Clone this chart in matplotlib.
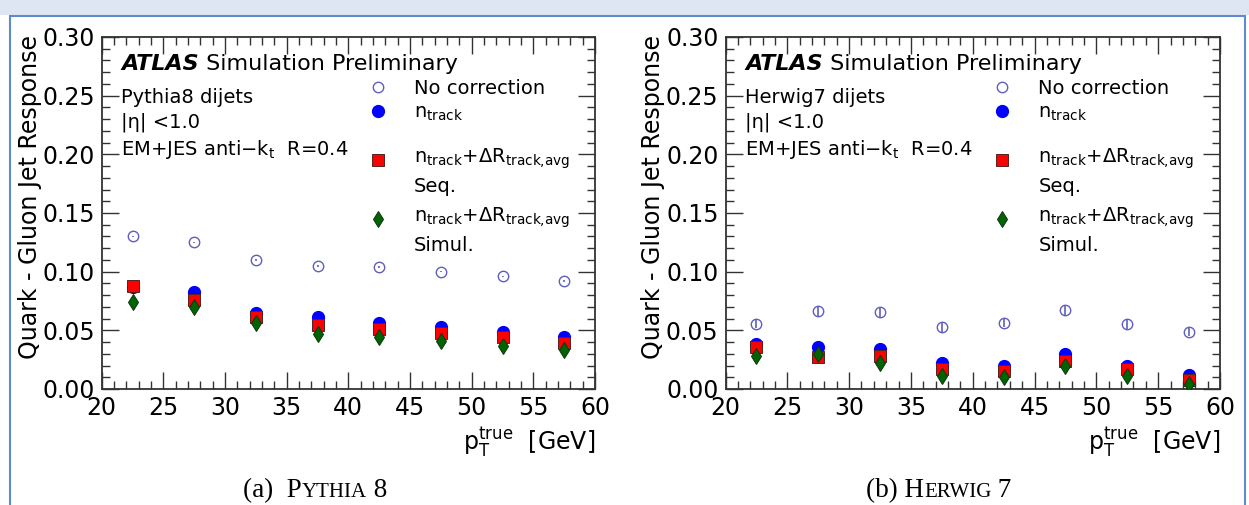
import numpy as np
import matplotlib
matplotlib.use("Agg")
import matplotlib.pyplot as plt
from matplotlib.lines import Line2D
from matplotlib.legend import Legend
from matplotlib.patches import Rectangle
from matplotlib.legend_handler import HandlerLine2D
from matplotlib.ticker import MultipleLocator, FormatStrFormatter

plt.rcParams['font.family'] = ['DejaVu Sans']
plt.rcParams['mathtext.fontset'] = 'dejavusans'
plt.rcParams['mathtext.default'] = 'regular'

# bin centres in pT^true [GeV]
pt_centers = [22.5, 27.5, 32.5, 37.5, 42.5, 47.5, 52.5, 57.5]

# Pythia8
pythia_nocorr = [0.130, 0.125, 0.110, 0.105, 0.104, 0.100, 0.096, 0.092]
pythia_nocorr_err = [0.0007, 0.0007, 0.0007, 0.0007, 0.0007, 0.0007, 0.0007, 0.0007]
pythia_ntrack = [0.087, 0.083, 0.065, 0.061, 0.056, 0.053, 0.049, 0.044]
pythia_seq = [0.0875, 0.076, 0.061, 0.0545, 0.051, 0.048, 0.044, 0.039]
pythia_simul = [0.074, 0.070, 0.056, 0.047, 0.044, 0.041, 0.037, 0.033]

# Herwig7
herwig_nocorr = [0.0556, 0.0664, 0.0656, 0.0528, 0.0565, 0.0673, 0.0551, 0.0488]
herwig_nocorr_err = [0.004, 0.004, 0.004, 0.004, 0.004, 0.004, 0.004, 0.004]
herwig_ntrack = [0.038, 0.036, 0.034, 0.022, 0.0196, 0.030, 0.0193, 0.0122]
herwig_seq = [0.0358, 0.0275, 0.0281, 0.0173, 0.0156, 0.0241, 0.0168, 0.0077]
herwig_simul = [0.0281, 0.0295, 0.0224, 0.011, 0.010, 0.0196, 0.0113, 0.004]

legend_labels = ['No correction', r'n$_{track}$',
                 'n$_{track}$+ΔR$_{track{,}avg}$\nSeq.',
                 'n$_{track}$+ΔR$_{track{,}avg}$\nSimul.']

C_NOCORR = '#5f5fbf'
C_NTRACK = '#0000ff'
C_SEQ = '#ff0000'
C_SIMUL = '#006400'
C_AXIS = '#333333'


class RaisedHandler(HandlerLine2D):
    # put the marker on the first line of a two-line label
    def __init__(self, shift, **kw):
        super().__init__(**kw)
        self.shift = shift

    def create_artists(self, legend, orig_handle, xdescent, ydescent,
                       width, height, fontsize, trans):
        arts = super().create_artists(legend, orig_handle, xdescent, ydescent,
                                      width, height, fontsize, trans)
        for a in arts:
            a.set_ydata(np.asarray(a.get_ydata()) + self.shift)
        return arts


def draw_panel(ax, nocorr, nocorr_err, ntrack, seq, simul, sample):
    ax.errorbar(pt_centers, nocorr, yerr=nocorr_err, fmt='o', ms=7.5, mfc='none',
                mec=C_NOCORR, mew=1.0, ecolor=C_NOCORR, elinewidth=1.2,
                capsize=0, zorder=3)
    ax.plot(pt_centers, ntrack, 'o', ms=8.5, color=C_NTRACK, mec=C_NTRACK, zorder=4)
    ax.plot(pt_centers, seq, 's', ms=8, color=C_SEQ, mec='#552222', mew=0.7, zorder=5)
    ax.plot(pt_centers, simul, 'd', ms=8, color=C_SIMUL, mec='#113311', mew=0.7, zorder=6)

    ax.set_xlim(20, 60)
    ax.set_ylim(0, 0.30)
    ax.xaxis.set_major_locator(MultipleLocator(5))
    ax.xaxis.set_minor_locator(MultipleLocator(1))
    ax.yaxis.set_major_locator(MultipleLocator(0.05))
    ax.yaxis.set_minor_locator(MultipleLocator(0.01))
    ax.yaxis.set_major_formatter(FormatStrFormatter('%.2f'))
    ax.tick_params(which='both', direction='in', top=True, right=True,
                   color=C_AXIS, width=1.0, labelsize=17, labelcolor='black')
    ax.tick_params(which='major', length=12)
    ax.tick_params(which='minor', length=6)
    ax.tick_params(axis='x', pad=5)
    ax.tick_params(axis='y', pad=5)
    for s in ax.spines.values():
        s.set_color(C_AXIS)
        s.set_linewidth(1.3)

    ax.set_ylabel('Quark - Gluon Jet Response', fontsize=17, loc='top')
    ax.yaxis.set_label_coords(-0.122, 1.005)
    ax.set_xlabel(r'p$_{T}^{true}$  [GeV]', fontsize=17, loc='right', va='top')
    ax.xaxis.set_label_coords(1.0, -0.103)

    t = ax.text(0.04, 0.905, 'ATLAS', transform=ax.transAxes, fontsize=16,
                fontweight='bold', fontstyle='italic', va='baseline')
    ax.annotate(' Simulation Preliminary', xy=(1, 0.905),
                xycoords=(t, 'axes fraction'), fontsize=16, va='baseline')
    ax.text(0.04, 0.813, sample + ' dijets', transform=ax.transAxes, fontsize=14, va='baseline')
    ax.text(0.04, 0.742, '|η| <1.0', transform=ax.transAxes, fontsize=14, va='baseline')
    ax.text(0.04, 0.666, r'EM+JES anti$-$k$_{t}$  R=0.4', transform=ax.transAxes,
            fontsize=14, va='baseline')

    handles = [
        Line2D([], [], ls='none', marker='o', ms=7.5, mfc='none', mec=C_NOCORR, mew=1.0),
        Line2D([], [], ls='none', marker='o', ms=8.5, color=C_NTRACK),
        Line2D([], [], ls='none', marker='s', ms=8, color=C_SEQ, mec='#552222', mew=0.7),
        Line2D([], [], ls='none', marker='d', ms=8, color=C_SIMUL, mec='#113311', mew=0.7),
    ]
    # one legend per entry so each row sits where the reference has it
    centers = [0.853, 0.785, 0.620, 0.452]
    shifts = [0.0, 0.0, 8.3, 8.3]
    for h, lab, yc, sh in zip(handles, legend_labels, centers, shifts):
        leg = Legend(ax, [h], [lab], handler_map={h: RaisedHandler(sh)},
                     loc='center left', bbox_to_anchor=(0.54, yc), frameon=False,
                     fontsize=14, handlelength=1.0, handletextpad=1.36,
                     borderpad=0, borderaxespad=0, numpoints=1)
        for txt in leg.get_texts():
            txt.set_linespacing(1.4)
        ax.add_artist(leg)


fig = plt.figure(figsize=(12.49, 5.05), dpi=100)
W, H = 1249.0, 505.0

# page decoration: light strip on top and the blue frame
fig.patches.append(Rectangle((0, 1 - 15 / H), 1, 15 / H, transform=fig.transFigure,
                             facecolor='#dde6f2', edgecolor='none', zorder=0))
fig.patches.append(Rectangle((10 / W, -0.2), (1245 - 10) / W, (H - 16) / H + 0.2,
                             transform=fig.transFigure, fill=False,
                             edgecolor='#5d8ad0', linewidth=1.5, zorder=1))

ax1 = fig.add_axes([101.7 / W, (H - 389) / H, 493.3 / W, 352 / H])
ax2 = fig.add_axes([725.5 / W, (H - 389) / H, 494.5 / W, 352 / H])

draw_panel(ax1, pythia_nocorr, pythia_nocorr_err, pythia_ntrack, pythia_seq, pythia_simul, 'Pythia8')
draw_panel(ax2, herwig_nocorr, herwig_nocorr_err, herwig_ntrack, herwig_seq, herwig_simul, 'Herwig7')

# captions in small caps
yb = (H - 497) / H
for x0, first, rest, last in [(243, '(a)  P', 'YTHIA', ' 8'), (866, '(b) H', 'ERWIG', ' 7')]:
    t0 = fig.text(x0 / W, yb, first, fontsize=19.5, family='Liberation Serif', va='baseline')
    t1 = ax1.annotate(rest, xy=(1, yb), xycoords=(t0, 'figure fraction'), fontsize=15,
                      family='Liberation Serif', va='baseline', annotation_clip=False)
    ax1.annotate(last, xy=(1, yb), xycoords=(t1, 'figure fraction'), fontsize=19.5,
                 family='Liberation Serif', va='baseline', annotation_clip=False)

fig.savefig('out.png', dpi=100)
